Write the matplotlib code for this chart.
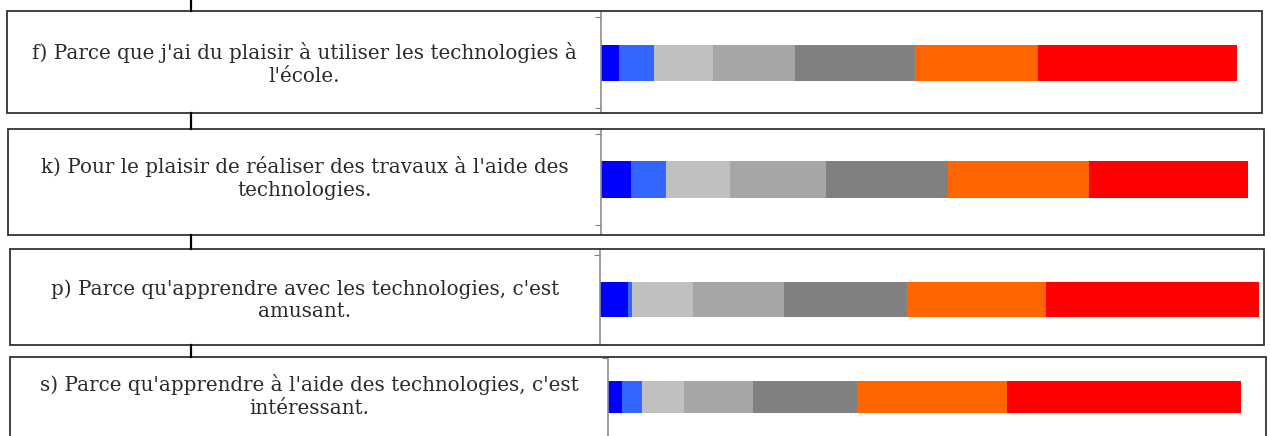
import matplotlib.pyplot as plt
from matplotlib.patches import Rectangle
from matplotlib.lines import Line2D

# items (text boxes) and answer shares per item (%), from the blue end to the red end
items = [
    "f) Parce que j'ai du plaisir à utiliser les technologies à\nl'école.",
    "k) Pour le plaisir de réaliser des travaux à l'aide des\ntechnologies.",
    "p) Parce qu'apprendre avec les technologies, c'est\namusant.",
    "s) Parce qu'apprendre à l'aide des technologies, c'est\nintéressant.",
]
level1 = [2.8, 4.7, 4.3, 2.2]
level2 = [5.5, 5.4, 0.5, 3.2]
level3 = [9.3, 9.9, 9.3, 6.6]
level4 = [12.8, 14.7, 13.8, 10.9]
level5 = [18.9, 19.0, 18.7, 16.4]
level6 = [19.4, 21.7, 21.1, 23.7]
level7 = [31.2, 24.6, 32.4, 37.0]
colors = ['#0000ff', '#3366ff', '#c0c0c0', '#a6a6a6', '#808080', '#ff6600', '#ff0000']

W, H = 1270, 436
fig = plt.figure(figsize=(W / 100, H / 100), dpi=100)

# layout in pixels: box (left, top, right, bottom), axis line x, bar end x, bar centre y
boxes = [(7, 11, 1262, 113), (8, 129, 1264, 235), (10, 249, 1264, 345), (10, 357, 1266, 437)]
axis_x = [601, 601, 600, 608]
bar_end = [1237, 1248, 1259, 1241]
bar_mid = [63, 179.5, 301, 395]
text_mid = [64, 178, 300, 396]
span = 91  # height of one category in pixels

def fx(x):
    return x / W

def fy(y):
    return 1 - y / H

# connector line behind the boxes
for y0, y1 in [(0, 11), (113, 129), (235, 249), (345, 357)]:
    fig.add_artist(Line2D([fx(191), fx(191)], [fy(y0), fy(y1)], color='black', lw=1.6))

for i, text in enumerate(items):
    l, t, r, b = boxes[i]
    fig.add_artist(Rectangle((fx(l), fy(b)), fx(r - l), (b - t) / H, fill=False,
                             edgecolor='#333333', lw=1.3))
    fig.text(fx((l + axis_x[i]) / 2), fy(text_mid[i]), text,
             ha='center', va='center', ma='center', fontsize=14.3,
             family='DejaVu Serif', color='#2a2a2a', linespacing=1.22)

    vals = [level1[i], level2[i], level3[i], level4[i], level5[i], level6[i], level7[i]]
    ax = fig.add_axes([fx(axis_x[i]), fy(b - 1), fx(bar_end[i] - axis_x[i]), (b - 1 - t - 1) / H])
    left = 0
    for v, c in zip(vals, colors):
        ax.barh(0, v, left=left, height=0.4, color=c)
        left += v
    ax.set_xlim(0, sum(vals))
    ax.set_ylim(-(b - 1 - bar_mid[i]) / span, (bar_mid[i] - t - 1) / span)
    ax.set_yticks([-0.5, 0.5])
    ax.set_yticklabels([])
    ax.set_xticks([])
    ax.tick_params(axis='y', direction='out', length=4, color='#808080')
    for s in ['top', 'right', 'bottom']:
        ax.spines[s].set_visible(False)
    ax.spines['left'].set_color('#8c8c8c')
    ax.spines['left'].set_linewidth(1.2)
    ax.patch.set_alpha(0)

fig.savefig('out.png', dpi=100)
